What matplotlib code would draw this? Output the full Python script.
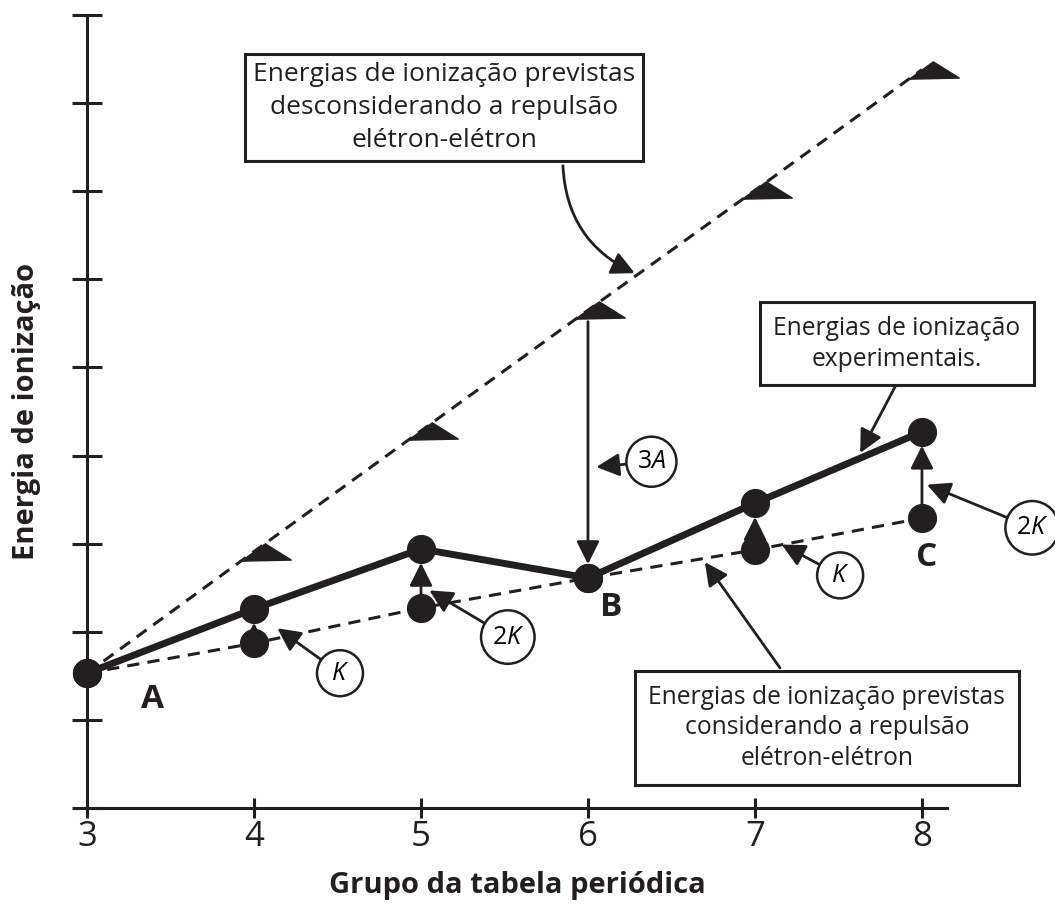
import matplotlib
matplotlib.use('Agg')
import matplotlib.pyplot as plt
from matplotlib.path import Path

plt.rcParams['font.family'] = ['Open Sans', 'DejaVu Sans']
plt.rcParams['mathtext.fontset'] = 'custom'
plt.rcParams['mathtext.rm'] = 'Open Sans'
plt.rcParams['mathtext.it'] = 'Open Sans:italic'

# dados
grupos = [3, 4, 5, 6, 7, 8]
experimental = [1.53, 2.26, 2.94, 2.61, 3.46, 4.27]
com_repulsao = [1.53, 1.87, 2.27, 2.61, 2.93, 3.29]
sem_repulsao = [1.53, 2.91, 4.28, 5.65, 7.01, 8.38]
y_ticks = list(range(10))

c = '#231f20'

fig = plt.figure(figsize=(10.55, 9.18), dpi=100)
ax = fig.add_axes([87 / 1055, 110 / 918, 860 / 1055, 793 / 918])

# marcador tipo "bandeira"
flag = Path([(-12, -8), (10, 8), (34, -7), (-12, -8)],
            [Path.MOVETO, Path.LINETO, Path.LINETO, Path.CLOSEPOLY])

ax.plot(grupos, sem_repulsao, ls=(0, (4, 2.7)), lw=2.2, color=c, zorder=2, clip_on=False)
ax.plot(grupos[1:], sem_repulsao[1:], ls='none', marker=flag, ms=53, color=c, zorder=3, clip_on=False)
ax.plot(grupos, com_repulsao, ls=(0, (4, 2.7)), lw=2.2, color=c, zorder=2, clip_on=False)
ax.plot(grupos, experimental, lw=5, color=c, zorder=4, clip_on=False)
ax.plot(grupos, experimental, ls='none', marker='o', ms=20, color=c, zorder=5, clip_on=False)
ax.plot(grupos, com_repulsao, ls='none', marker='o', ms=20, color=c, zorder=5, clip_on=False)

head = '-|>,head_length=0.7,head_width=0.35'

# setas entre previsto e experimental
for g, e, p in zip(grupos, experimental, com_repulsao):
    if e - p > 0.1:
        ax.annotate('', xy=(g, e), xytext=(g, p),
                    arrowprops=dict(arrowstyle=head, lw=2, color=c, shrinkA=0, shrinkB=10,
                                    mutation_scale=20), zorder=6)

# seta 3A
ax.annotate('', xy=(grupos[3], experimental[3]), xytext=(grupos[3], 5.52),
            arrowprops=dict(arrowstyle=head, lw=2, color=c, shrinkA=0, shrinkB=10,
                            mutation_scale=20), zorder=6)

circ = dict(boxstyle='circle,pad=0.42', fc='white', ec=c, lw=1.8)
arr = dict(arrowstyle=head, lw=2, color=c, shrinkA=0, shrinkB=0, mutation_scale=20)
rotulos = [('$K$', (4.14, 2.04), (4.515, 1.53)),
           ('2$K$', (5.05, 2.47), (5.52, 1.94)),
           ('3$A$', (6.05, 3.87), (6.38, 3.93)),
           ('$K$', (7.16, 2.99), (7.51, 2.64)),
           ('2$K$', (8.03, 3.67), (8.66, 3.18))]
for txt, tip, pos in rotulos:
    ax.annotate(txt, xy=tip, xytext=pos, ha='center', va='center', fontsize=18,
                bbox=circ, arrowprops=arr, zorder=7, annotation_clip=False)

box1 = dict(boxstyle='square,pad=0.3', fc='white', ec=c, lw=2.2)
box = dict(boxstyle='square,pad=0.55', fc='white', ec=c, lw=2.2)
ax.text(5.14, 7.95, 'Energias de ionização previstas\ndesconsiderando a repulsão\nelétron-elétron',
        ha='center', va='center', fontsize=19, bbox=box1, linespacing=1.42, color=c, zorder=8)
ax.annotate('', xy=(6.28, 6.07), xytext=(5.85, 7.29),
            arrowprops=dict(arrowstyle=head, lw=2, color=c, shrinkA=0, shrinkB=0,
                            mutation_scale=20, connectionstyle='arc3,rad=0.3'), zorder=6)

ax.text(7.85, 5.27, 'Energias de ionização\nexperimentais.',
        ha='center', va='center', fontsize=17.7, bbox=box, linespacing=1.3, color=c, zorder=8,
        clip_on=False)
ax.annotate('', xy=(7.63, 4.03), xytext=(7.85, 4.82), arrowprops=arr, zorder=6)

ax.text(7.43, 0.91, 'Energias de ionização previstas\nconsiderando a repulsão\nelétron-elétron',
        ha='center', va='center', fontsize=17.7, bbox=box, linespacing=1.3, color=c, zorder=8,
        clip_on=False)
ax.annotate('', xy=(6.70, 2.79), xytext=(7.15, 1.59), arrowprops=arr, zorder=6)

ax.text(3.395, 1.226, 'A', fontsize=24, fontweight='bold', ha='center', va='center', color=c)
ax.text(6.14, 2.27, 'B', fontsize=24, fontweight='bold', ha='center', va='center', color=c)
ax.text(8.03, 2.84, 'C', fontsize=24, fontweight='bold', ha='center', va='center', color=c)

ax.set_xlim(3, 8.15)
ax.set_ylim(0, 9)
ax.set_xticks(grupos)
ax.set_yticks(y_ticks)
ax.spines['top'].set_visible(False)
ax.spines['right'].set_visible(False)
for s in ['left', 'bottom']:
    ax.spines[s].set_linewidth(2.2)
    ax.spines[s].set_color(c)
ax.tick_params(axis='y', direction='inout', length=21.6, width=2.2, color=c, labelleft=False)
ax.tick_params(axis='x', direction='inout', length=13.7, width=2.2, color=c,
               labelsize=25, pad=2, labelcolor=c)

ax.set_xlabel('Grupo da tabela periódica', fontsize=21, fontweight='bold', color=c, labelpad=12)
ax.set_ylabel('Energia de ionização', fontsize=21, fontweight='bold', color=c, labelpad=22)

plt.savefig('out.png', dpi=100)
